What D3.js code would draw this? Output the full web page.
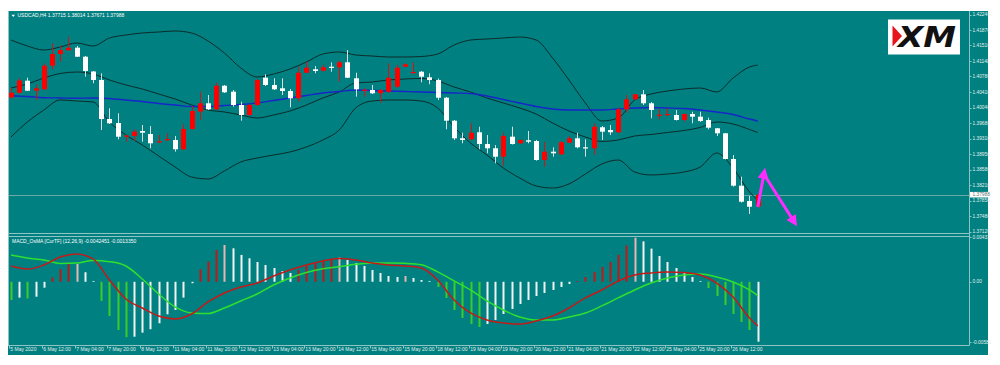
<!DOCTYPE html>
<html><head><meta charset="utf-8">
<script src="https://cdn.jsdelivr.net/npm/d3@7"></script>
<style>
html,body{margin:0;padding:0;background:#fff;}
svg{display:block;}
text{font-family:"Liberation Sans","DejaVu Sans",Arial,sans-serif;}
</style>
</head><body>
<svg id="chart" width="1000" height="365"></svg>
<script>
// ---------------- DATA ----------------
const symbolTitle = "USDCAD,H4  1.37715 1.38014 1.37671 1.37988";
const macdTitle = "MACD_OsMA [CurTF] (12,26,9) -0.0042451 -0.0013350";
const lastPrice = 1.37988;

const openP = [1.40282,1.40395,1.40678,1.40442,1.40475,1.41032,1.41308,1.41395,1.41457,1.41244,
1.40895,1.40695,1.39774,1.39680,1.39357,1.39373,1.39491,1.39420,1.39232,1.39286,
1.39279,1.39060,1.39538,1.39947,1.40145,1.40003,1.40560,1.40419,1.40105,1.39869,
1.40105,1.40749,1.40577,1.40499,1.40435,1.40263,1.40867,1.40947,1.40914,1.41008,
1.40994,1.41112,1.40735,1.40452,1.40459,1.40381,1.40419,1.40537,1.41008,1.40867,
1.40890,1.40758,1.40695,1.40277,1.39734,1.39319,1.39295,1.39461,1.39185,1.39083,
1.38885,1.39357,1.39201,1.39272,1.39255,1.38807,1.39003,1.38942,1.39215,1.39319,
1.39107,1.39083,1.39579,1.39515,1.39461,1.40003,1.40239,1.40357,1.40145,1.39862,
1.39876,1.39869,1.39751,1.39892,1.39829,1.39751,1.39555,1.39437,1.38831,1.38201,
1.37840,1.37715];
const highP = [1.40506,1.40742,1.40749,1.40593,1.41089,1.41560,1.41504,1.41716,1.41497,1.41261,
1.40907,1.40853,1.40027,1.39909,1.39397,1.39531,1.39633,1.39609,1.39397,1.39437,
1.39373,1.39649,1.40081,1.40419,1.40341,1.40631,1.40577,1.40459,1.40183,1.40128,
1.40718,1.40829,1.40735,1.40735,1.40482,1.41008,1.41126,1.41025,1.41049,1.41112,
1.41150,1.41402,1.40867,1.40499,1.40577,1.40482,1.41089,1.41049,1.41089,1.41112,
1.40907,1.40853,1.40730,1.40293,1.39751,1.39451,1.39673,1.39593,1.39397,1.39161,
1.39451,1.39593,1.39291,1.39491,1.39279,1.39239,1.39107,1.39255,1.39373,1.39451,
1.39295,1.39673,1.39609,1.39633,1.40041,1.40341,1.40364,1.40459,1.40176,1.40003,
1.40027,1.39987,1.39904,1.39947,1.39947,1.39805,1.39562,1.39444,1.38925,1.38413,
1.37958,1.38014];
const lowP = [1.40258,1.40376,1.40435,1.40223,1.40459,1.40947,1.41126,1.41391,1.41237,1.40772,
1.40617,1.39515,1.39656,1.39295,1.39239,1.39255,1.39239,1.39083,1.39220,1.39255,
1.39003,1.39043,1.39527,1.39751,1.39987,1.39987,1.40388,1.40065,1.39734,1.39845,
1.40081,1.40553,1.40459,1.40341,1.40050,1.40183,1.40860,1.40853,1.40895,1.40890,
1.40655,1.40742,1.40301,1.40301,1.40364,1.40159,1.40388,1.40506,1.41001,1.40853,
1.40640,1.40593,1.40223,1.39531,1.39279,1.39201,1.39279,1.39060,1.38965,1.38729,
1.38666,1.39173,1.39185,1.39201,1.38791,1.38649,1.38885,1.38925,1.39208,1.39083,
1.38885,1.38925,1.39279,1.39397,1.39444,1.39923,1.40223,1.40105,1.39791,1.39767,
1.39845,1.39739,1.39711,1.39673,1.39704,1.39531,1.39373,1.38819,1.38177,1.37800,
1.37533,1.37671];
const closeP = [1.40395,1.40683,1.40442,1.40499,1.41032,1.41308,1.41402,1.41457,1.41244,1.40907,
1.40695,1.39774,1.39673,1.39357,1.39385,1.39475,1.39451,1.39201,1.39248,1.39302,
1.39060,1.39538,1.39963,1.40145,1.40003,1.40560,1.40404,1.40105,1.39869,1.40105,
1.40695,1.40577,1.40475,1.40435,1.40263,1.40867,1.40985,1.40907,1.40994,1.40985,
1.41112,1.40749,1.40475,1.40466,1.40381,1.40459,1.40749,1.40985,1.41065,1.40883,
1.40772,1.40695,1.40277,1.39734,1.39319,1.39279,1.39451,1.39185,1.39083,1.38885,
1.39373,1.39185,1.39279,1.39239,1.38807,1.39003,1.38965,1.39225,1.39319,1.39107,
1.39083,1.39593,1.39475,1.39461,1.40003,1.40239,1.40357,1.40145,1.39987,1.39876,
1.39892,1.39751,1.39892,1.39829,1.39727,1.39569,1.39437,1.38831,1.38201,1.37823,
1.37705,1.37988];

const lineBars = [0,2,4,6,8,10,12,14,16,18,20,22,24,26,28,30,32,34,36,38,40,42,44,46,48,50,
52,54,56,58,60,62,64,66,68,70,72,74,76,78,80,82,84,86,88,90,91];
const bbUpper = [1.41638,1.41497,1.41402,1.41473,1.41568,1.41497,1.41686,1.41756,1.41804,1.41827,
1.41851,1.41804,1.41615,1.41332,1.40978,1.40765,1.40836,1.40954,1.41119,1.41308,
1.41355,1.41284,1.41261,1.41237,1.41237,1.41249,1.41308,1.41520,1.41638,1.41662,
1.41686,1.41709,1.41638,1.41214,1.40695,1.40152,1.39727,1.39798,1.40223,1.40364,
1.40435,1.40482,1.40506,1.40412,1.40742,1.41001,1.41048];
const bbMiddle = [1.40506,1.40600,1.40742,1.40848,1.40883,1.40836,1.40695,1.40577,1.40482,1.40364,
1.40246,1.40105,1.39987,1.39940,1.39869,1.39798,1.39869,1.39963,1.40105,1.40270,
1.40412,1.40624,1.40647,1.40695,1.40718,1.40730,1.40671,1.40529,1.40412,1.40270,
1.40152,1.40034,1.39892,1.39680,1.39491,1.39350,1.39244,1.39279,1.39373,1.39409,
1.39456,1.39503,1.39574,1.39704,1.39656,1.39527,1.39456];
const bbLower = [1.39350,1.39704,1.39987,1.40223,1.40199,1.40176,1.39704,1.39397,1.39161,1.38901,
1.38642,1.38406,1.38359,1.38548,1.38760,1.38854,1.38925,1.38996,1.39114,1.39279,
1.39515,1.40034,1.40199,1.40223,1.40223,1.40199,1.40034,1.39586,1.39208,1.38925,
1.38618,1.38382,1.38194,1.38146,1.38241,1.38477,1.38713,1.38807,1.38524,1.38453,
1.38477,1.38524,1.38642,1.38972,1.38618,1.38052,1.37863];
const maBlue = [1.40324,1.40305,1.40277,1.40270,1.40263,1.40270,1.40258,1.40223,1.40187,1.40140,
1.40105,1.40069,1.40069,1.40093,1.40116,1.40152,1.40211,1.40270,1.40329,1.40388,
1.40423,1.40459,1.40447,1.40435,1.40423,1.40412,1.40400,1.40388,1.40376,1.40317,
1.40234,1.40152,1.40069,1.40010,1.39987,1.39987,1.39987,1.40010,1.40034,1.40046,
1.40034,1.40022,1.39987,1.39940,1.39881,1.39774,1.39727];

const osma = [-0.00176,-0.00153,-0.00161,-0.00144,-0.00057,0.00040,0.00121,0.00169,0.00172,0.00092,
0.00008,-0.00185,-0.00330,-0.00465,-0.00535,-0.00530,-0.00491,-0.00458,-0.00400,-0.00314,
-0.00272,-0.00153,-0.00014,0.00121,0.00194,0.00307,0.00355,0.00323,0.00259,0.00227,
0.00191,0.00162,0.00133,0.00104,0.00085,0.00114,0.00152,0.00181,0.00201,0.00220,
0.00234,0.00210,0.00181,0.00152,0.00114,0.00085,0.00056,0.00046,0.00056,0.00037,
0.00017,0.00008,-0.00050,-0.00156,-0.00272,-0.00349,-0.00407,-0.00436,-0.00407,-0.00369,
-0.00311,-0.00262,-0.00214,-0.00176,-0.00137,-0.00108,-0.00079,-0.00050,-0.00021,0.00008,
0.00046,0.00095,0.00143,0.00191,0.00259,0.00350,0.00425,0.00390,0.00320,0.00249,
0.00191,0.00133,0.00085,0.00046,0.00008,-0.00060,-0.00137,-0.00224,-0.00311,-0.00388,
-0.00465,-0.00578];
const macdMain = [0.00152,0.00123,0.00162,0.00239,0.00268,0.00220,0.00017,-0.00166,-0.00253,-0.00330,
-0.00359,-0.00311,-0.00195,-0.00108,-0.00050,-0.00012,0.00056,0.00114,0.00162,0.00201,
0.00225,0.00210,0.00181,0.00162,0.00152,0.00133,0.00017,-0.00176,-0.00301,-0.00369,
-0.00397,-0.00407,-0.00378,-0.00330,-0.00253,-0.00156,-0.00079,0.00008,0.00066,0.00085,
0.00095,0.00090,0.00066,-0.00012,-0.00147,-0.00349,-0.00425];
const macdSignal = [0.00259,0.00230,0.00210,0.00177,0.00181,0.00206,0.00194,0.00152,0.00027,-0.00118,
-0.00243,-0.00301,-0.00306,-0.00253,-0.00185,-0.00118,-0.00031,0.00037,0.00090,0.00125,
0.00145,0.00168,0.00180,0.00182,0.00178,0.00165,0.00095,0.00008,-0.00079,-0.00185,
-0.00272,-0.00340,-0.00369,-0.00369,-0.00340,-0.00301,-0.00233,-0.00156,-0.00079,-0.00012,
0.00037,0.00066,0.00075,0.00046,-0.00002,-0.00079,-0.00134];

const dateLabels = ["5 May 2020","6 May 12:00","7 May 04:00","7 May 20:00","8 May 12:00","11 May 04:00",
"11 May 20:00","12 May 12:00","13 May 04:00","13 May 20:00","14 May 12:00","15 May 04:00",
"15 May 20:00","18 May 12:00","19 May 04:00","19 May 20:00","20 May 12:00","21 May 04:00",
"21 May 20:00","22 May 12:00","25 May 04:00","25 May 20:00","26 May 12:00"];
const priceTicks = ["1.42240","1.41870","1.41510","1.41140","1.40780","1.40410","1.40040","1.39680",
"1.39310","1.38950","1.38580","1.38210","1.37850","1.37480","1.37120"];
const macdTicks = ["0.00432","0.00","-0.00581"];

// projection arrows (bar index, price)
const arrowUp = [[91, 1.37700], [91.8, 1.38520]];
const arrowDown = [[91.8, 1.38460], [95.5, 1.37330]];

// ---------------- DRAW ----------------
const svg = d3.select("#chart");
const TEAL = "#008080", FRAME = "#8fc4c4", LABEL = "#e4eeee";
svg.append("rect").attr("width",1000).attr("height",365).attr("fill","#fff");
svg.append("rect").attr("x",8).attr("y",11).attr("width",980).attr("height",344).attr("fill",TEAL);

const nBars = openP.length;
const x = d3.scaleLinear().domain([0, nBars-1]).range([11, 757.7]);
const y = d3.scaleLinear().domain([+priceTicks[priceTicks.length-1], +priceTicks[0]]).range([231.5, 14.5]);
const ym = d3.scaleLinear().domain([+macdTicks[2], +macdTicks[0]]).range([342, 237]);
const px = i => Math.round(x(i)) + 0.5;

// frame
const frame = svg.append("g").attr("stroke", FRAME).attr("stroke-width",1).attr("fill","none");
frame.append("line").attr("x1",969.5).attr("x2",969.5).attr("y1",11).attr("y2",345.5);
frame.append("line").attr("x1",8.5).attr("x2",8.5).attr("y1",11).attr("y2",345.5);
frame.append("line").attr("x1",8).attr("x2",969.5).attr("y1",233.5).attr("y2",233.5);
frame.append("line").attr("x1",8).attr("x2",969.5).attr("y1",236.5).attr("y2",236.5);
frame.append("line").attr("x1",8).attr("x2",969.5).attr("y1",345.5).attr("y2",345.5);

// current price line
svg.append("line").attr("x1",9).attr("x2",969).attr("y1",Math.round(y(lastPrice))+0.5).attr("y2",Math.round(y(lastPrice))+0.5)
  .attr("stroke","#6aa8a8").attr("stroke-width",1);

// indicator lines on price chart
const lineGen = (scale) => d3.line().x(d=>x(d[0])).y(d=>scale(d[1])).curve(d3.curveMonotoneX);
const series = (arr) => lineBars.map((b,k)=>[b, arr[k]]);
[[bbUpper,"#0d2b2b",1],[bbMiddle,"#0d2b2b",1],[bbLower,"#0d2b2b",1],[maBlue,"#1626c8",1.4]].forEach(([arr,col,w])=>{
  svg.append("path").attr("d", lineGen(y)(series(arr))).attr("fill","none").attr("stroke",col).attr("stroke-width",w);
});

// candles
const bars = d3.range(nBars).map(i=>({i,o:openP[i],h:highP[i],l:lowP[i],c:closeP[i]}));
const cg = svg.append("g");
cg.selectAll("line").data(bars).join("line")
  .attr("x1", d=>px(d.i)).attr("x2", d=>px(d.i))
  .attr("y1", d=>y(d.h)).attr("y2", d=>y(d.l))
  .attr("stroke", d=>d.c>=d.o ? "#d41414" : "#dcdcdc").attr("stroke-width",1);
cg.selectAll("rect").data(bars).join("rect")
  .attr("x", d=>px(d.i)-2.5).attr("width",5)
  .attr("y", d=>y(Math.max(d.o,d.c)))
  .attr("height", d=>Math.max(1.2, Math.abs(y(d.o)-y(d.c))))
  .attr("fill", d=>d.c>=d.o ? "#ff0000" : "#ffffff");

// arrows
const defs = svg.append("defs");
defs.append("marker").attr("id","ah").attr("viewBox","0 0 10 10").attr("refX",6).attr("refY",5)
  .attr("markerWidth",11).attr("markerHeight",11).attr("markerUnits","userSpaceOnUse").attr("orient","auto")
  .append("path").attr("d","M0,0 L10,5 L0,10 z").attr("fill","#ff2cff");
const aLine = d3.line().x(d=>x(d[0])).y(d=>y(d[1]));
[arrowUp, arrowDown].forEach(a=>{
  svg.append("path").attr("d", aLine(a)).attr("stroke","#ff2cff").attr("stroke-width",3)
    .attr("fill","none").attr("marker-end","url(#ah)");
});

// MACD histogram
const C_RED="#c01818", C_WHITE="#f2f2f2", C_GREEN="#3ccc28", C_PINK="#e8b4b4";
function histColor(i){
  const v = osma[i], prev = i>0 ? osma[i-1] : 0, next = i<osma.length-1 ? osma[i+1] : null;
  if (next === null) return C_WHITE; // live bar
  if (v >= 0) {
    if (v > prev && next < v) return C_PINK;
    return v > prev ? C_RED : C_WHITE;
  }
  return v < prev ? C_GREEN : C_WHITE;
}
svg.append("g").selectAll("line").data(osma).join("line")
  .attr("x1",(d,i)=>px(i)).attr("x2",(d,i)=>px(i))
  .attr("y1", ym(0)).attr("y2", d=>ym(d))
  .attr("stroke",(d,i)=>histColor(i)).attr("stroke-width",2);

// MACD lines
svg.append("path").attr("d", lineGen(ym)(series(macdSignal))).attr("fill","none").attr("stroke","#2ee02e").attr("stroke-width",1.5);
svg.append("path").attr("d", lineGen(ym)(series(macdMain))).attr("fill","none").attr("stroke","#c41a1a").attr("stroke-width",1.5);

// titles
const tg = svg.append("g").attr("fill","#ffffff").attr("font-size","5px");
tg.append("path").attr("d","M11.5,14.8 L15,14.8 L13.25,17 z").attr("fill","#ffffff");
tg.append("text").attr("x",17.5).attr("y",17).text(symbolTitle);
tg.append("text").attr("x",12).attr("y",243).text(macdTitle);

// price axis
const ag = svg.append("g").attr("font-size","4.8px").attr("fill",LABEL);
priceTicks.forEach(t=>{
  const yy = y(+t);
  ag.append("line").attr("x1",969.5).attr("x2",971.5).attr("y1",Math.round(yy)+0.5).attr("y2",Math.round(yy)+0.5).attr("stroke",FRAME);
  ag.append("text").attr("x",972.5).attr("y",yy+1.7).text(t);
});
macdTicks.forEach(t=>{
  const yy = ym(+t);
  ag.append("line").attr("x1",969.5).attr("x2",971.5).attr("y1",Math.round(yy)+0.5).attr("y2",Math.round(yy)+0.5).attr("stroke",FRAME);
  ag.append("text").attr("x",972.5).attr("y",yy+1.7).text(t);
});
// current price box
const ly = y(lastPrice);
svg.append("rect").attr("x",970).attr("y",ly-2.8).attr("width",18).attr("height",5.6).attr("fill","#ffffff");
svg.append("text").attr("x",972.5).attr("y",ly+1.7).attr("font-size","4.8px").attr("fill","#557777").text(lastPrice.toFixed(5));

// date axis
const dg = svg.append("g").attr("font-size","5px").attr("fill",LABEL);
dateLabels.forEach((t,k)=>{
  const xi = Math.round(x(k*4)) - 1.5;
  dg.append("line").attr("x1",xi).attr("x2",xi).attr("y1",345.5).attr("y2",348.5).attr("stroke",FRAME);
  dg.append("text").attr("x",xi+0.8).attr("y",351.3).text(t);
});

// XM logo
const lg = svg.append("g");
lg.append("rect").attr("x",888).attr("y",19.5).attr("width",72).attr("height",35).attr("fill","#ffffff");
lg.append("path").attr("d","M892.5,25.5 L902,36 L892.5,46.5 z").attr("fill","#e8141c");
lg.append("text").attr("x",898).attr("y",47).attr("font-size","29px").attr("font-weight","900")
  .attr("font-style","italic").attr("fill","#111").attr("textLength",58).attr("lengthAdjust","spacingAndGlyphs")
  .style("font-family","'DejaVu Sans','Liberation Sans',sans-serif").text("XM");
</script>
</body></html>
